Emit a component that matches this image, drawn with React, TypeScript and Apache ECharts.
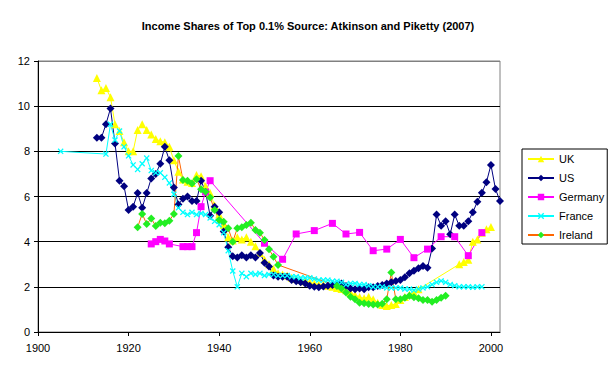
import React, { useEffect, useRef } from "react";
import * as echarts from "echarts";

const titleText = "Income Shares of Top 0.1% Source: Atkinson and Piketty (2007)";
const seriesNames = ["UK", "US", "Germany", "France", "Ireland"];

const ukYears = [1913,1914,1915,1916,1917,1918,1919,1920,1921,1922,1923,1924,1925,1926,1927,1928,1929,1930,1931,1932,1933,1934,1935,1936,1937,1938,1939,1940,1941,1942,1943,1944,1945,1946,1947,1948,1949,1950,1951,1952,1953,1954,1955,1956,1957,1958,1959,1960,1961,1962,1963,1964,1965,1966,1967,1968,1969,1970,1971,1972,1973,1974,1975,1976,1977,1978,1979,1980,1981,1982,1983,1984,1993,1994,1995,1996,1997,1998,1999,2000];
const ukValues = [11.25,10.7,10.8,10.4,9.2,8.9,8.4,8.0,8.0,8.95,9.2,8.95,8.75,8.55,8.45,8.4,8.2,7.6,7.1,6.75,6.65,6.6,6.95,6.9,6.45,6.15,5.6,5.2,4.75,4.2,4.05,4.2,4.1,4.2,4.0,3.8,3.5,3.2,3.0,2.8,2.6,2.55,2.5,2.4,2.35,2.3,2.25,2.2,2.15,2.1,2.1,2.05,2.0,1.95,1.9,1.85,1.75,1.64,1.55,1.49,1.56,1.45,1.3,1.2,1.15,1.2,1.24,1.42,1.55,1.65,1.75,1.89,3.0,3.1,3.2,4.0,4.1,4.4,4.55,4.65];

const usYears = [1913,1914,1915,1916,1917,1918,1919,1920,1921,1922,1923,1924,1925,1926,1927,1928,1929,1930,1931,1932,1933,1934,1935,1936,1937,1938,1939,1940,1941,1942,1943,1944,1945,1946,1947,1948,1949,1950,1951,1952,1953,1954,1955,1956,1957,1958,1959,1960,1961,1962,1963,1964,1965,1966,1967,1968,1969,1970,1971,1972,1973,1974,1975,1976,1977,1978,1979,1980,1981,1982,1983,1984,1985,1986,1987,1988,1989,1990,1991,1992,1993,1994,1995,1996,1997,1998,1999,2000,2001,2002];
const usValues = [8.6,8.6,9.2,9.9,8.35,6.7,6.45,5.4,5.55,6.15,5.5,6.15,6.8,7.0,7.45,8.2,7.6,6.4,5.65,5.9,6.0,5.8,5.8,6.7,6.2,5.15,5.55,5.3,4.45,3.75,3.35,3.3,3.4,3.3,3.4,3.3,3.5,3.07,2.9,2.5,2.45,2.45,2.45,2.3,2.25,2.2,2.15,2.05,2.0,1.98,2.02,2.05,2.08,2.1,2.15,2.04,1.93,1.89,1.93,1.89,1.98,1.98,2.04,2.08,2.15,2.2,2.26,2.3,2.42,2.6,2.71,2.82,2.92,2.85,3.7,5.2,4.7,4.9,4.33,5.2,4.7,4.7,4.9,5.3,5.77,6.17,6.63,7.4,6.33,5.8];

const deYears = [1925,1926,1927,1928,1929,1932,1933,1934,1935,1936,1937,1938,1950,1954,1957,1961,1965,1968,1971,1974,1977,1980,1983,1986,1989,1992,1995,1998];
const deValues = [3.9,4.0,4.1,4.03,3.9,3.78,3.78,3.78,4.4,5.55,6.2,6.7,3.93,3.22,4.34,4.49,4.81,4.34,4.41,3.6,3.67,4.1,3.29,3.67,4.22,4.22,3.38,4.4];

const frYears = [1905,1915,1916,1917,1918,1919,1920,1921,1922,1923,1924,1925,1926,1927,1928,1929,1930,1931,1932,1933,1934,1935,1936,1937,1938,1939,1940,1941,1942,1943,1944,1945,1946,1947,1948,1949,1950,1951,1952,1953,1954,1955,1956,1957,1958,1959,1960,1961,1962,1963,1964,1965,1966,1967,1968,1969,1970,1971,1972,1973,1974,1975,1976,1977,1978,1979,1980,1981,1982,1983,1984,1985,1986,1987,1988,1989,1990,1991,1992,1993,1994,1995,1996,1997,1998];
const frValues = [8.0,7.88,9.2,8.5,8.9,8.2,7.8,7.4,7.2,7.45,7.7,7.15,7.05,7.05,6.85,6.6,6.1,5.5,5.3,5.2,5.3,5.2,5.25,5.2,5.05,4.9,4.75,4.4,3.6,2.7,2.0,2.6,2.45,2.6,2.55,2.6,2.5,2.55,2.55,2.5,2.5,2.5,2.45,2.45,2.4,2.4,2.4,2.35,2.3,2.3,2.3,2.25,2.25,2.2,2.1,2.15,2.15,2.1,2.1,2.05,2.0,2.0,2.0,1.95,1.95,1.95,1.95,1.9,1.9,1.85,1.9,1.95,2.0,2.1,2.2,2.26,2.2,2.1,2.05,2.0,2.0,2.0,1.98,2.0,2.0];

const ieYears = [1922,1923,1924,1925,1926,1927,1928,1929,1930,1931,1932,1933,1934,1935,1936,1937,1938,1939,1940,1941,1942,1943,1944,1945,1946,1947,1948,1949,1950,1951,1952,1953,1966,1967,1968,1969,1970,1971,1972,1973,1974,1975,1976,1977,1978,1979,1980,1981,1982,1983,1984,1985,1986,1987,1988,1989,1990];
const ieValues = [4.64,5.23,4.78,5.03,4.69,4.84,4.81,4.93,5.23,7.79,6.73,6.7,6.58,6.76,6.32,6.21,5.96,5.4,4.96,4.88,4.59,4.0,4.59,4.64,4.74,4.84,4.52,4.4,4.07,3.66,3.33,2.97,2.04,1.93,1.75,1.56,1.45,1.3,1.27,1.24,1.22,1.22,1.25,1.45,2.63,1.45,1.45,1.52,1.6,1.54,1.49,1.42,1.42,1.34,1.42,1.52,1.6];

const xMin = 1900;
const xMax = 2002;
const xStep = 20;
const yMin = 0;
const yMax = 12;
const yStep = 2;

const crossSymbol =
  "path://M0,1.5L1.5,0L5,3.5L8.5,0L10,1.5L6.5,5L10,8.5L8.5,10L5,6.5L1.5,10L0,8.5L3.5,5Z";

function zip(years: number[], values: number[]) {
  return years.map((y, i) => [y, values[i]]);
}

export default function App() {
  const ref = useRef<HTMLDivElement>(null);
  useEffect(() => {
    if (!ref.current) return;
    const chart = echarts.init(ref.current, undefined, { renderer: "svg" });
    const font = "Arial, 'Liberation Sans', sans-serif";
    const lineSeries = (
      name: string,
      data: number[][],
      lineColor: string,
      markColor: string,
      symbol: string,
      size: number
    ) => ({
      name,
      type: "line",
      data,
      symbol,
      symbolSize: size,
      showSymbol: true,
      lineStyle: { color: lineColor, width: 1 },
      itemStyle: { color: markColor, borderWidth: 0 },
      emphasis: { disabled: true },
    });
    chart.setOption({
      animation: false,
      backgroundColor: "#ffffff",
      title: {
        text: titleText,
        left: "center",
        top: 15,
        textStyle: { fontFamily: font, fontSize: 11, fontWeight: "bold", color: "#000" },
      },
      grid: {
        left: 38,
        right: 116,
        top: 61,
        bottom: 44,
        show: true,
        borderColor: "#808080",
        borderWidth: 1,
        backgroundColor: "#ffffff",
      },
      legend: {
        orient: "vertical",
        left: 522,
        top: 149,
        padding: [4, 3, 3, 5],
        itemGap: 7,
        itemWidth: 26,
        itemHeight: 8,
        borderColor: "#000",
        borderWidth: 1,
        backgroundColor: "#fff",
        data: seriesNames,
        textStyle: { fontFamily: font, fontSize: 11, color: "#000", lineHeight: 12 },
      },
      xAxis: {
        type: "value",
        min: xMin,
        max: xMax,
        interval: xStep,
        axisLine: { show: true, lineStyle: { color: "#000", width: 1 } },
        axisTick: { show: true, length: 4, lineStyle: { color: "#000" } },
        axisLabel: {
          showMaxLabel: false,
          fontFamily: font,
          fontSize: 11,
          color: "#000",
          margin: 10,
          formatter: (v: number) => String(v),
        },
        splitLine: { show: false },
      },
      yAxis: {
        type: "value",
        min: yMin,
        max: yMax,
        interval: yStep,
        axisLine: { show: true, lineStyle: { color: "#000", width: 1 } },
        axisTick: { show: true, length: 4, lineStyle: { color: "#000" } },
        axisLabel: { fontFamily: font, fontSize: 11, color: "#000", margin: 8 },
        splitLine: {
          show: true,
          lineStyle: {
            color: ["#000", "#000", "#000", "#000", "#000", "#000", "#808080"],
            width: 1,
          },
        },
      },
      series: [
        lineSeries("UK", zip(ukYears, ukValues), "#FFFF00", "#FFFF00", "triangle", 8),
        lineSeries("US", zip(usYears, usValues), "#000080", "#000080", "diamond", 8),
        lineSeries("Germany", zip(deYears, deValues), "#FF00FF", "#FF00FF", "rect", 7),
        lineSeries("France", zip(frYears, frValues), "#00FFFF", "#00FFFF", crossSymbol, 6),
        lineSeries("Ireland", zip(ieYears, ieValues), "#FF6600", "#22EE22", "diamond", 8),
      ],
    });
    return () => chart.dispose();
  }, []);
  return (
    <div
      ref={ref}
      style={{ position: "fixed", left: 0, top: 0, width: 616, height: 376, background: "#fff" }}
    />
  );
}
